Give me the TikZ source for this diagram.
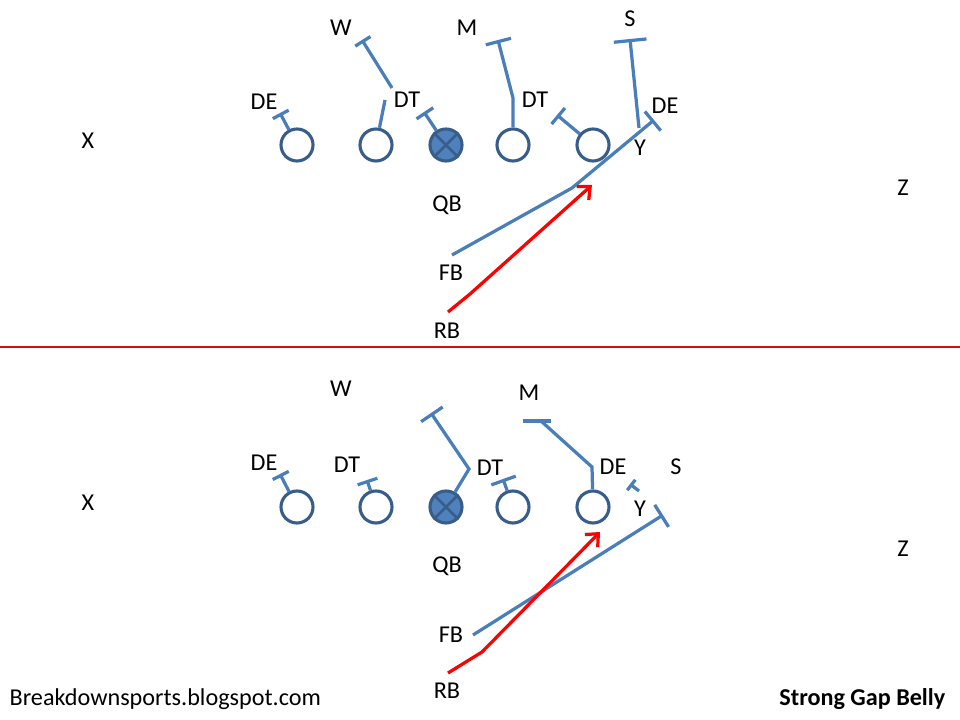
\documentclass[tikz,border=0pt]{standalone}
\usepackage{fontspec}
\setmainfont{Carlito}
\usepackage{tikz}
\usetikzlibrary{arrows.meta}
\usepackage{xcolor}
\definecolor{lnBlue}{RGB}{74,126,187}
\definecolor{plOut}{RGB}{56,93,138}
\definecolor{plFill}{RGB}{79,129,189}
\definecolor{sepRed}{RGB}{210,16,16}

\begin{document}
\begin{tikzpicture}[
  x=0.025cm, y=-0.025cm,
  every node/.style={font=\fontsize{17.2pt}{20pt}\selectfont, inner sep=1pt},
  player/.style={circle, draw=plOut, line width=2.2pt, minimum size=0.8cm, inner sep=0pt},
  qback/.style ={player, fill=plFill},
  qbx/.style   ={draw=plOut, line width=2pt},
  blk/.style   ={draw=lnBlue, line width=2.3pt},
  tee/.style   ={blk, -{Bar[width=#1]}},
  tee/.default =4.5mm,
  run/.style   ={draw=red, line width=2.3pt, -{Straight Barb[length=2.5mm, width=4.5mm]}},
]
\useasboundingbox (0,0) rectangle (960,720);

% Top play
\node[player] (de1) at (297,145) {};
\node[player] (dt1) at (376,145) {};
\node[qback]  (qb)  at (446,145) {};
\node[player] (dt2) at (513,145) {};
\node[player] (de2) at (593,145) {};
\draw[qbx] (qb.45) -- (qb.225) (qb.135) -- (qb.-45);

\node (lX)   at (88,141)  {X};
\node (lZ)   at (903,188) {Z};
\node (lQB)  at (447,205) {QB};
\node (lFB)  at (451,273) {FB};
\node (lRB)  at (447,331) {RB};
\node (lW)   at (341,28)  {W};
\node (lM)   at (467,28)  {M};
\node (lS)   at (630,19)  {S};
\node (lDE1) at (264,102) {DE};
\node (lDT1) at (407,100) {DT};
\node (lDT2) at (535,100) {DT};
\node (lDE2) at (665,106) {DE};
\node (lY)   at (640,148) {Y};

\coordinate (tDE1)  at (280,113);
\coordinate (kDT1)  at (385,100);
\coordinate (wFrom) at (392,88);
\coordinate (tW)    at (362,40);
\coordinate (tQB)   at (424,112);
\coordinate (kM)    at (513,98);
\coordinate (tM)    at (498,40);
\coordinate (tDE2)  at (557,115);
\coordinate (sFrom) at (639,128);
\coordinate (tS)    at (630,39);
\coordinate (fbFrom) at (452,255);
\coordinate (kFB)   at (572,188);
\coordinate (tY)    at (654,120);
\coordinate (rbFrom) at (448,312);
\coordinate (kRB)   at (470,294);
\coordinate (aim)   at (592,185);

\draw[tee]        (de1)   -- (tDE1);
\draw[blk]        (dt1)   -- (kDT1);
\draw[tee]        (wFrom) -- (tW);
\draw[tee=5mm]    (qb)    -- (tQB);
\draw[tee=6.5mm]  (dt2)   -- (kM) -- (tM);
\draw[tee=5.2mm]  (de2)   -- (tDE2);
\draw[tee=8.2mm]  (sFrom) -- (tS);
\draw[tee=6.2mm]  (fbFrom) -- (kFB) -- (tY);
\draw[run]        (rbFrom) -- (kRB) -- (aim);

% Divider
\coordinate (sepL) at (0,347);
\coordinate (sepR) at (960,347);
\draw[sepRed, line width=2pt] (sepL) -- (sepR);

% Bottom play
\node[player] (de1b) at (297,507) {};
\node[player] (dt1b) at (376,507) {};
\node[qback]  (qbb)  at (446,507) {};
\node[player] (dt2b) at (513,507) {};
\node[player] (de2b) at (593,507) {};
\draw[qbx] (qbb.45) -- (qbb.225) (qbb.135) -- (qbb.-45);

\node (lXb)   at (88,503)  {X};
\node (lZb)   at (903,549) {Z};
\node (lQBb)  at (447,566) {QB};
\node (lFBb)  at (451,635) {FB};
\node (lRBb)  at (447,691) {RB};
\node (lWb)   at (341,389) {W};
\node (lMb)   at (529,393) {M};
\node (lDE1b) at (264,463) {DE};
\node (lDT1b) at (347,465) {DT};
\node (lDT2b) at (490,468) {DT};
\node (lDE2b) at (613,467) {DE};
\node (lSb)   at (676,467) {S};
\node (lYb)   at (640,509) {Y};

\coordinate (tDE1b)  at (280,474);
\coordinate (tDT1b)  at (367,480);
\coordinate (kWb)    at (469,469);
\coordinate (tWb)    at (431,413);
\coordinate (tDT2b)  at (503,479);
\coordinate (kMb)    at (592,467);
\coordinate (tMb)    at (541,421);
\coordinate (mBarL)  at (523,421);
\coordinate (mBarR)  at (551,421);
\coordinate (yFrom)  at (639,491);
\coordinate (tYs)    at (630,484);
\coordinate (fbFromb) at (473,635);
\coordinate (tYb)    at (663,515);
\coordinate (rbFromb) at (448,673);
\coordinate (kRBb)   at (482,652);
\coordinate (aimb)   at (600,532);

\draw[tee]        (de1b)  -- (tDE1b);
\draw[tee=5.2mm]  (dt1b)  -- (tDT1b);
\draw[tee=6.5mm]  (qbb)   -- (kWb) -- (tWb);
\draw[tee=6.5mm]  (dt2b)  -- (tDT2b);
\draw[blk]        (de2b)  -- (kMb) -- (tMb);
\draw[blk]        (mBarL) -- (mBarR);
\draw[tee=3.3mm]  (yFrom) -- (tYs);
\draw[tee=6.5mm]  (fbFromb) -- (tYb);
\draw[run]        (rbFromb) -- (kRBb) -- (aimb);

% Captions
\node[anchor=west] (site)  at (8,699)   {Breakdownsports.blogspot.com};
\node[anchor=east, font=\fontsize{17.2pt}{20pt}\selectfont\bfseries] (title) at (947,699) {Strong Gap Belly};

\end{tikzpicture}
\end{document}
